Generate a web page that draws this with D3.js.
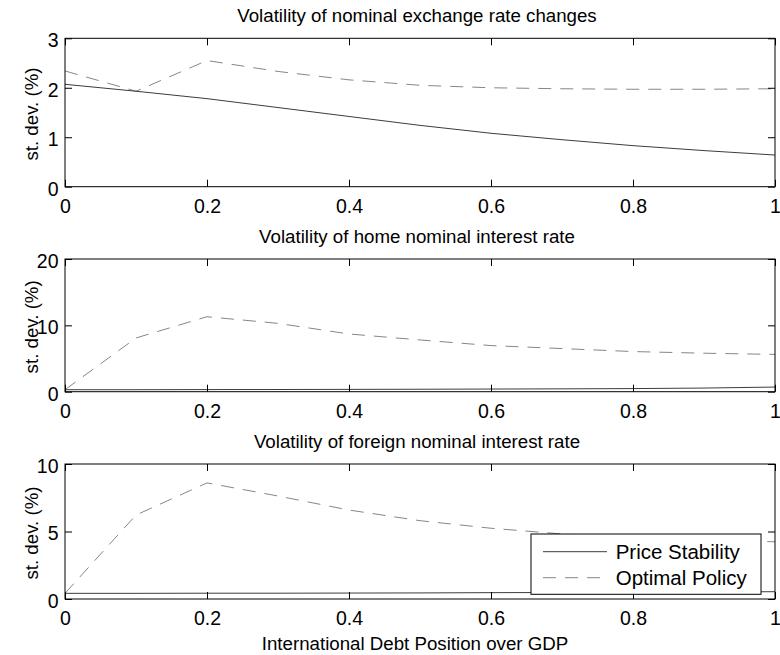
<!DOCTYPE html>
<html>
<head>
<meta charset="utf-8">
<script src="https://cdn.jsdelivr.net/npm/d3@7/dist/d3.min.js"></script>
<style>
  html, body { margin: 0; padding: 0; background: #fff; }
  svg { display: block; font-family: "Liberation Sans", Arial, Helvetica, sans-serif; }
  .axis text { font-size: 19.5px; fill: #000; }
  .axis line { stroke: #000; }
</style>
</head>
<body>
<svg id="chart" width="780" height="655"></svg>
<script>
// Debt position over GDP (horizontal grid shared by all panels)
const debtGrid = [0, 0.1, 0.2, 0.3, 0.4, 0.5, 0.6, 0.7, 0.8, 0.9, 1.0];
const xTickValues = [0, 0.2, 0.4, 0.6, 0.8, 1];

// Panel 1: nominal exchange rate changes, st. dev. (%)
const fxPriceStability = [2.07, 1.93, 1.78, 1.60, 1.42, 1.24, 1.08, 0.95, 0.83, 0.73, 0.64];
const fxOptimalPolicy  = [2.34, 1.93, 2.55, 2.33, 2.16, 2.05, 2.00, 1.98, 1.97, 1.97, 1.98];
const fxTicks = [0, 1, 2, 3];

// Panel 2: home nominal interest rate, st. dev. (%)
const homePriceStability = [0.30, 0.30, 0.32, 0.33, 0.35, 0.37, 0.40, 0.43, 0.47, 0.55, 0.70];
const homeOptimalPolicy  = [0.30, 8.10, 11.3, 10.3, 8.70, 7.80, 6.95, 6.50, 6.05, 5.80, 5.62];
const homeTicks = [0, 10, 20];

// Panel 3: foreign nominal interest rate, st. dev. (%)
const foreignPriceStability = [0.42, 0.42, 0.43, 0.43, 0.44, 0.45, 0.47, 0.48, 0.50, 0.52, 0.54];
const foreignOptimalPolicy  = [0.42, 6.22, 8.60, 7.63, 6.59, 5.80, 5.24, 4.82, 4.55, 4.36, 4.24];
const foreignTicks = [0, 5, 10];

const panelTitles = [
  "Volatility of nominal exchange rate changes",
  "Volatility of home nominal interest rate",
  "Volatility of foreign nominal interest rate"
];
const yLabel = "st. dev. (%)";
const xLabel = "International Debt Position over GDP";
const seriesNames = ["Price Stability", "Optimal Policy"];

const svg = d3.select("#chart");
const left = 65, right = 775, tickLen = 7;
const labelSize = 18.7, legendSize = 20.5;
const solidColor = "#3c3c3c", dashColor = "#868686", dashPattern = "13,9";

const panels = [
  { top: 38.3, bottom: 186.7, max: 3,  ticks: fxTicks,      ps: fxPriceStability,      op: fxOptimalPolicy,      title: panelTitles[0] },
  { top: 259,  bottom: 391.7, max: 20, ticks: homeTicks,    ps: homePriceStability,    op: homeOptimalPolicy,    title: panelTitles[1] },
  { top: 464,  bottom: 599,   max: 10, ticks: foreignTicks, ps: foreignPriceStability, op: foreignOptimalPolicy, title: panelTitles[2] }
];

const x = d3.scaleLinear().domain([0, 1]).range([left, right]);
const fmt = d => String(+d.toFixed(2));

panels.forEach((p, i) => {
  const y = d3.scaleLinear().domain([0, p.max]).range([p.bottom, p.top]);
  const g = svg.append("g");

  // clip lines to the axes box
  const clipId = "clip" + i;
  svg.append("clipPath").attr("id", clipId)
    .append("rect").attr("x", left).attr("y", p.top)
    .attr("width", right - left).attr("height", p.bottom - p.top);

  const line = d3.line().x((d, k) => x(debtGrid[k])).y(d => y(d));

  g.append("path").datum(p.op)
    .attr("clip-path", `url(#${clipId})`)
    .attr("fill", "none").attr("stroke", dashColor).attr("stroke-width", 1)
    .attr("stroke-dasharray", dashPattern)
    .attr("d", line);

  g.append("path").datum(p.ps)
    .attr("clip-path", `url(#${clipId})`)
    .attr("fill", "none").attr("stroke", solidColor).attr("stroke-width", 1)
    .attr("d", line);

  // axes: inward ticks on all four sides
  const bottomAx = g.append("g").attr("class", "axis")
    .attr("transform", `translate(0,${p.bottom})`)
    .call(d3.axisBottom(x).tickValues(xTickValues).tickFormat(fmt).tickSize(-tickLen).tickPadding(12));
  g.append("g").attr("class", "axis")
    .attr("transform", `translate(0,${p.top})`)
    .call(d3.axisTop(x).tickValues(xTickValues).tickFormat("").tickSize(-tickLen));
  const leftAx = g.append("g").attr("class", "axis")
    .attr("transform", `translate(${left},0)`)
    .call(d3.axisLeft(y).tickValues(p.ticks).tickFormat(fmt).tickSize(-tickLen).tickPadding(6.5));
  g.append("g").attr("class", "axis")
    .attr("transform", `translate(${right},0)`)
    .call(d3.axisRight(y).tickValues(p.ticks).tickFormat("").tickSize(-tickLen));
  g.selectAll(".axis .domain").remove();
  leftAx.selectAll("text").attr("dy", "0.43em");
  bottomAx.selectAll("text").attr("dy", "0.71em");

  // axes box
  g.append("rect")
    .attr("x", left).attr("y", p.top)
    .attr("width", right - left).attr("height", p.bottom - p.top)
    .attr("fill", "none").attr("stroke", "#000").attr("stroke-width", 1);

  // title
  g.append("text")
    .attr("x", (left + right) / 2 - 3).attr("y", p.top - 16.5)
    .attr("text-anchor", "middle").attr("font-size", labelSize)
    .text(p.title);

  // y label
  g.append("text")
    .attr("transform", `translate(38,${(p.top + p.bottom) / 2 + 1.5}) rotate(-90)`)
    .attr("text-anchor", "middle").attr("font-size", labelSize)
    .text(yLabel);

  // legend in the last panel
  if (i === 2) {
    const lg = g.append("g");
    lg.append("rect")
      .attr("x", 531).attr("y", 534).attr("width", 230).attr("height", 60.3)
      .attr("fill", "#fff").attr("stroke", "#000").attr("stroke-width", 1);
    const entries = [
      { name: seriesNames[0], color: solidColor, dash: null, yy: 551.7 },
      { name: seriesNames[1], color: dashColor, dash: dashPattern, yy: 577.7 }
    ];
    entries.forEach(e => {
      lg.append("line")
        .attr("x1", 543).attr("x2", 607).attr("y1", e.yy).attr("y2", e.yy)
        .attr("stroke", e.color).attr("stroke-width", 1)
        .attr("stroke-dasharray", e.dash);
      lg.append("text")
        .attr("x", 615.7).attr("y", e.yy + 7)
        .attr("font-size", legendSize)
        .text(e.name);
    });
  }
});

// x label
svg.append("text")
  .attr("x", (left + right) / 2 - 5).attr("y", 650)
  .attr("text-anchor", "middle").attr("font-size", labelSize)
  .text(xLabel);
</script>
</body>
</html>
